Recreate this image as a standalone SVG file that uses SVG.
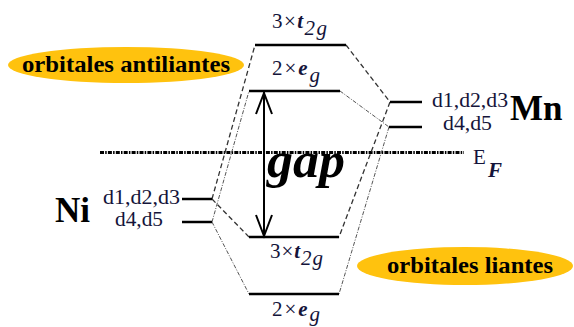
<svg xmlns="http://www.w3.org/2000/svg" width="574" height="327" viewBox="0 0 574 327">
<style>
.lvl{stroke:#000;stroke-width:2.5;fill:none}
.dash{stroke:#333;stroke-width:1.3;stroke-dasharray:5 3;fill:none}
.dd{stroke:#555;stroke-width:1;stroke-dasharray:4 1.5 1 1.5;fill:none}
.lab{font-family:'Liberation Serif',serif;font-size:21px;fill:#14143a}
.bi{font-weight:bold;font-style:italic}
.it{font-style:italic}
.big{font-family:'Liberation Serif',serif;font-weight:bold;font-size:35px;fill:#000}
.ell{fill:#FFC20E}
.et{font-family:'Liberation Serif',serif;font-weight:bold;font-size:24px;fill:#000}
</style>
<rect width="574" height="327" fill="#fff"/>
<g id="fermi">
<line x1="100" y1="152.5" x2="464" y2="152.5" stroke="#000" stroke-width="3" stroke-dasharray="4 1.2 1.5 1.2"/>
<text x="473" y="164" class="lab">E</text>
<text x="488" y="177" class="lab bi">F</text>
</g>
<g id="connectors">
<line x1="346" y1="45" x2="390" y2="102" class="dash"/>
<line x1="340" y1="91" x2="389" y2="127" class="dd"/>
<line x1="390" y1="102" x2="339" y2="237" class="dash"/>
<line x1="389" y1="127" x2="339" y2="294" class="dd"/>
<line x1="212" y1="199" x2="255" y2="45" class="dash"/>
<line x1="212" y1="199" x2="249" y2="237" class="dash"/>
<line x1="212" y1="222" x2="249" y2="91" class="dd"/>
<line x1="212" y1="222" x2="249" y2="294" class="dd"/>
</g>
<g id="mo-top-t2g">
<line x1="255" y1="45" x2="346" y2="45" class="lvl"/>
<text x="272" y="28" class="lab" textLength="55" lengthAdjust="spacing">3×<tspan class="bi">t</tspan><tspan class="it" dy="7">2g</tspan></text>
</g>
<g id="mo-top-eg">
<line x1="249" y1="91" x2="340" y2="91" class="lvl"/>
<text x="272" y="75" class="lab" textLength="48" lengthAdjust="spacing">2×<tspan class="bi">e</tspan><tspan class="it" dy="7">g</tspan></text>
</g>
<g id="mo-bot-t2g">
<line x1="249" y1="237" x2="339" y2="237" class="lvl"/>
<text x="270" y="258" class="lab" textLength="53" lengthAdjust="spacing">3×<tspan class="bi">t</tspan><tspan class="it" dy="7">2g</tspan></text>
</g>
<g id="mo-bot-eg">
<line x1="249" y1="294" x2="339" y2="294" class="lvl"/>
<text x="272" y="316" class="lab" textLength="48" lengthAdjust="spacing">2×<tspan class="bi">e</tspan><tspan class="it" dy="5">g</tspan></text>
</g>
<g id="gap">
<line x1="264" y1="92" x2="264" y2="236" stroke="#000" stroke-width="2"/>
<polyline points="256,114 264,93 272,114" stroke="#000" stroke-width="2" fill="none"/>
<polyline points="256,215 264,236 272,215" stroke="#000" stroke-width="2" fill="none"/>
<text x="267" y="177" font-family="'Liberation Serif', serif" font-weight="bold" font-style="italic" font-size="50" fill="#000" textLength="78" lengthAdjust="spacingAndGlyphs">gap</text>
</g>
<g id="ni">
<line x1="182" y1="199" x2="212" y2="199" class="lvl"/>
<line x1="182" y1="222" x2="212" y2="222" class="lvl"/>
<text x="103" y="204" class="lab" style="font-size:20px" textLength="77" lengthAdjust="spacingAndGlyphs">d1,d2,d3</text>
<text x="115" y="226" class="lab" style="font-size:20px" textLength="48" lengthAdjust="spacingAndGlyphs">d4,d5</text>
<text x="55" y="222" class="big">Ni</text>
</g>
<g id="mn">
<line x1="390" y1="102" x2="422" y2="102" class="lvl"/>
<line x1="389" y1="127" x2="422" y2="127" class="lvl"/>
<text x="432" y="107" class="lab" style="font-size:20px" textLength="76" lengthAdjust="spacingAndGlyphs">d1,d2,d3</text>
<text x="443" y="130" class="lab" style="font-size:20px" textLength="49" lengthAdjust="spacingAndGlyphs">d4,d5</text>
<text x="510" y="120" class="big">Mn</text>
</g>
<g id="antibonding">
<ellipse cx="126" cy="65" rx="118" ry="18" class="ell"/>
<text x="22" y="72" class="et" textLength="208" lengthAdjust="spacingAndGlyphs">orbitales antiliantes</text>
</g>
<g id="bonding">
<ellipse cx="465" cy="266" rx="108" ry="19" class="ell"/>
<text x="387" y="273" class="et" textLength="166" lengthAdjust="spacingAndGlyphs">orbitales liantes</text>
</g>
</svg>
